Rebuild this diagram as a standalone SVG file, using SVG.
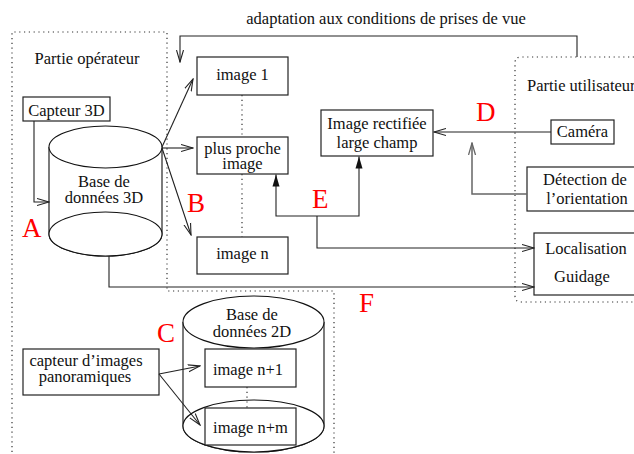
<svg xmlns="http://www.w3.org/2000/svg" width="634" height="454" viewBox="0 0 634 454">
<style>
text{font-family:"Liberation Serif","Times New Roman",serif;font-size:16.5px;fill:#111;text-anchor:middle}
.red{fill:#ff0000;font-size:27px;text-anchor:start}
.box{fill:#fff;stroke:#222;stroke-width:1.2}
.cyl{fill:#fff;stroke:#111;stroke-width:1.1}
.con{fill:none;stroke:#222;stroke-width:1.1}
.gray{stroke:#666;stroke-width:1.5}
.dot{fill:none;stroke:#333;stroke-width:1.2;stroke-dasharray:1.2 3.6}
</style>
<defs>
<marker id="open" markerUnits="userSpaceOnUse" markerWidth="13" markerHeight="9" viewBox="0 0 13 9" refX="12" refY="4.5" orient="auto">
<path d="M0,1 L12,4.5 L0,8" fill="none" stroke="#222" stroke-width="1.1"/>
</marker>
<marker id="opengray" markerUnits="userSpaceOnUse" markerWidth="13" markerHeight="9" viewBox="0 0 13 9" refX="12" refY="4.5" orient="auto">
<path d="M0,1 L12,4.5 L0,8" fill="none" stroke="#666" stroke-width="1.3"/>
</marker>
<marker id="fill" markerUnits="userSpaceOnUse" markerWidth="13" markerHeight="8" viewBox="0 0 13 8" refX="12" refY="4" orient="auto">
<path d="M0,0.5 L12,4 L0,7.5 z" fill="#111"/>
</marker>
</defs>

<g id="regions">
<path class="dot" d="M12,452 V32 H167 V291 H334 V454"/>
<path class="dot" d="M634,57 H521 Q515,57 515,63 V296 Q515,302 521,302 H634"/>
</g>

<text x="386" y="24">adaptation aux conditions de prises de vue</text>
<text x="87" y="64">Partie opérateur</text>
<text x="527" y="91" style="text-anchor:start">Partie utilisateur</text>

<g id="db3d">
<path class="cyl" d="M49,147 V234 A56.5,22 0 0 0 162,234 V147"/>
<ellipse class="cyl" cx="105.5" cy="234" rx="56.5" ry="22"/>
<ellipse class="cyl" cx="105.5" cy="147" rx="56.5" ry="21"/>
<text x="104" y="187">Base de</text>
<text x="104" y="203">données 3D</text>
</g>

<g id="db2d">
<path class="cyl" d="M183,322 V426 A70.5,26 0 0 0 324,426 V322"/>
<ellipse class="cyl" cx="253.5" cy="426" rx="70.5" ry="26"/>
<ellipse class="cyl" cx="253.5" cy="322" rx="70.5" ry="26"/>
<text x="252" y="320">Base de</text>
<text x="252" y="337">données 2D</text>
</g>

<g id="capteur3d"><rect class="box" x="23" y="97" width="87" height="24"/><text x="66.5" y="116">Capteur 3D</text></g>
<g id="image1"><rect class="box" x="197" y="57" width="91" height="38"/><text x="242.5" y="80">image 1</text></g>
<g id="plusproche"><rect class="box" x="197" y="137" width="91" height="37"/><text x="242.5" y="154">plus proche</text><text x="242.5" y="169">image</text></g>
<g id="imagen"><rect class="box" x="197" y="237" width="91" height="37"/><text x="242.5" y="259">image n</text></g>
<g id="rectifiee"><rect class="box" x="321" y="110" width="112" height="46"/><text x="377" y="129">Image rectifiée</text><text x="377" y="148">large champ</text></g>
<g id="camera"><rect class="box" x="551" y="120" width="63" height="24"/><text x="582.5" y="137">Caméra</text></g>
<g id="detection"><rect class="box" x="527" y="167" width="112" height="44"/><text x="585" y="185">Détection de</text><text x="587" y="204">l’orientation</text></g>
<g id="localisation"><rect class="box" x="534" y="233" width="106" height="62"/><text x="586" y="254">Localisation</text><text x="582" y="282">Guidage</text></g>
<g id="capteurpano"><rect class="box" x="23" y="349" width="136" height="46"/><text x="86" y="366">capteur d’images</text><text x="85" y="382">panoramiques</text></g>
<g id="imagen1"><rect class="box" x="205" y="349" width="91" height="38"/><text x="248" y="375">image n+1</text></g>
<g id="imagenm"><rect class="box" x="205" y="408" width="91" height="37"/><text x="250.5" y="433">image n+m</text></g>

<g id="connectors">
<path class="dot" d="M242,95 V137 M242,174 V237 M247,387 V408"/>
<path class="con" d="M577,57 V36 H180 V62" marker-end="url(#open)"/>
<path class="con" d="M34,121 V202 H49" marker-end="url(#open)"/>
<path class="con" d="M162,147 L193,79" marker-end="url(#open)"/>
<path class="con" d="M162,148 H193" marker-end="url(#open)"/>
<path class="con" d="M162,148 L191,235" marker-end="url(#open)"/>
<path class="con" d="M109,256 V287 H534" marker-end="url(#open)"/>
<path class="con" d="M317,216 H276 V174.5" marker-end="url(#fill)"/>
<path class="con" d="M317,216 H359 V156.5" marker-end="url(#fill)"/>
<path class="con" d="M317,216 V248 H534" marker-end="url(#open)"/>
<path class="con" d="M551,132 H434" marker-end="url(#open)"/>
<path class="con gray" d="M527,194 H472 V143" marker-end="url(#opengray)"/>
<path class="con" d="M159,374 L200,366" marker-end="url(#open)"/>
<path class="con" d="M159,374 L200,425" marker-end="url(#open)"/>
</g>

<g id="labels">
<text class="red" x="22" y="237">A</text>
<text class="red" x="187" y="212">B</text>
<text class="red" x="157" y="342">C</text>
<text class="red" x="476" y="121">D</text>
<text class="red" x="312" y="208">E</text>
<text class="red" x="359" y="312">F</text>
</g>
</svg>
